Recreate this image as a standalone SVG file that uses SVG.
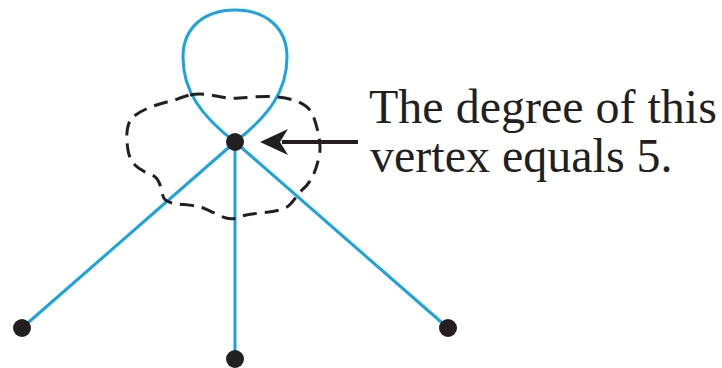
<svg xmlns="http://www.w3.org/2000/svg" width="722" height="368" viewBox="0 0 722 368">
<style>
.edge{fill:none;stroke:#1AA3DF;stroke-width:3}
.vtx{fill:#231F20}
.blob{fill:none;stroke:#231F20;stroke-width:3;stroke-dasharray:14 8}
.lbl{font-family:"Liberation Serif","Times New Roman",serif;font-size:48px;fill:#231F20}
</style>
<rect width="722" height="368" fill="#fff"/>
<g id="connectors">
<path class="edge" d="M235,142 C200,115 183,90 183,57 C183,27 205,10 235,10 C265,10 287,27 287,57 C287,90 270,115 235,142 Z"/>
<line class="edge" x1="235" y1="142" x2="22" y2="328"/>
<line class="edge" x1="235" y1="142" x2="235" y2="359"/>
<line class="edge" x1="235" y1="142" x2="448" y2="328"/>
<path class="blob" d="M190,95 C205,92 218,97 228,98 C240,99 262,95 278,97 C295,99 310,104 314,118 C318,130 322,145 319,157 C316,170 312,182 302,190 C294,198 292,206 283,209 C268,214 250,212 236,218 C225,222 212,210 200,207 C185,203 165,206 163,196 C160,186 160,178 152,175 C140,170 130,165 128,150 C126,138 126,125 132,118 C142,108 165,102 175,100 C180,98 185,96 190,95 Z"/>
<line x1="358" y1="142" x2="282" y2="142" stroke="#231F20" stroke-width="4"/>
<path d="M260,142 L288,129 L280,142 L288,155 Z" fill="#231F20"/>
</g>
<g id="center"><circle class="vtx" cx="235" cy="142" r="9"/></g>
<g id="left"><circle class="vtx" cx="22" cy="328" r="9"/></g>
<g id="bottom"><circle class="vtx" cx="235" cy="359" r="9"/></g>
<g id="right"><circle class="vtx" cx="448" cy="328" r="9"/></g>
<g id="label">
<text class="lbl" x="369" y="123">The degree of this</text>
<text class="lbl" x="370" y="172">vertex equals 5.</text>
</g>
</svg>
